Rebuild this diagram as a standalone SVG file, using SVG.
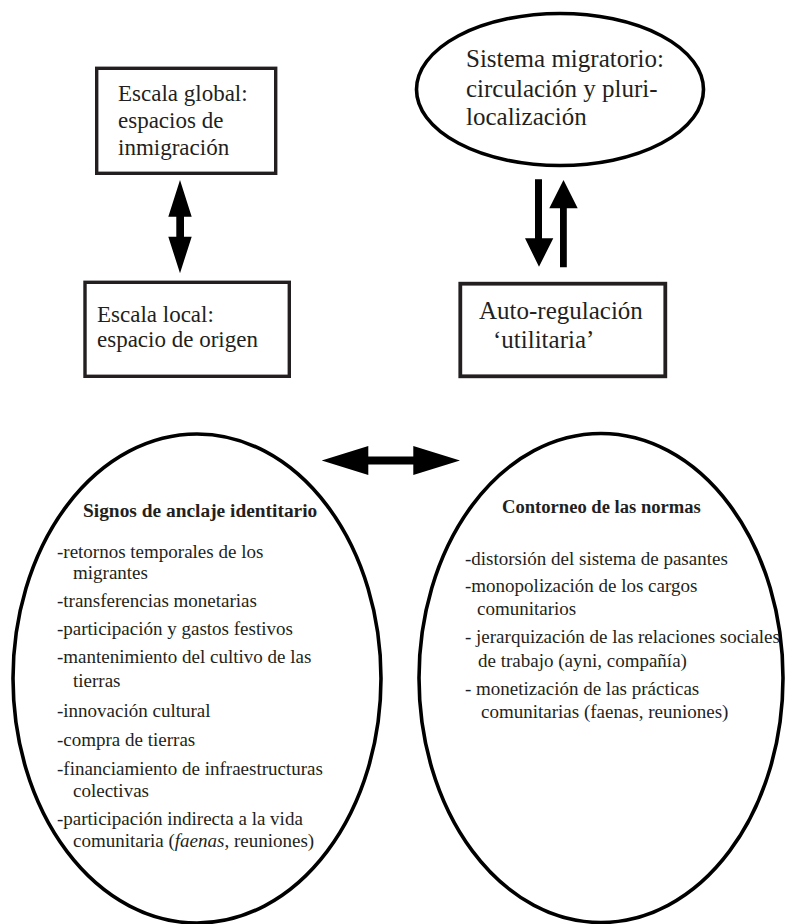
<svg xmlns="http://www.w3.org/2000/svg" width="785" height="924" viewBox="0 0 785 924">
<style>
  .box { fill: #ffffff; stroke: #231f20; stroke-width: 3.4; }
  .ell { fill: #ffffff; stroke: #000000; stroke-width: 3.6; }
  .t { font-family: "Liberation Serif", "DejaVu Serif", serif; fill: #231f20; }
  .big { font-size: 25px; }
  .mid { font-size: 23px; }
  .li { font-size: 19px; }
  .hd { font-weight: bold; }
  .arr { fill: #000000; stroke: none; }
</style>
<rect width="785" height="924" fill="#ffffff"/>

<g id="connectors">
  <!-- vertical double arrow between left boxes -->
  <polygon class="arr" points="180,180 191.7,216.7 184,216.7 184,236.7 191.7,236.7 180,273.3 168.3,236.7 176.3,236.7 176.3,216.7 168.3,216.7"/>
  <!-- down arrow -->
  <polygon class="arr" points="535,179.3 542,179.3 542,238.3 553.3,238.3 539,266.7 525,238.3 535,238.3"/>
  <!-- up arrow -->
  <polygon class="arr" points="563.5,180 577.7,208.3 566.8,208.3 566.8,267.3 560,267.3 560,208.3 549.3,208.3"/>
  <!-- horizontal double arrow -->
  <polygon class="arr" points="321.7,460.5 368.3,446 368.3,456.5 413.3,456.5 413.3,446 460,460.5 413.3,475 413.3,464.5 368.3,464.5 368.3,475"/>
</g>

<g id="escala-global">
  <rect class="box" x="96.7" y="68.3" width="179" height="105"/>
  <text class="t mid" x="118" y="101">Escala global:</text>
  <text class="t mid" x="118" y="128">espacios de</text>
  <text class="t mid" x="118" y="155">inmigración</text>
</g>

<g id="escala-local">
  <rect class="box" x="85" y="282.3" width="204.3" height="94"/>
  <text class="t mid" x="97" y="322">Escala local:</text>
  <text class="t mid" x="97" y="347">espacio de origen</text>
</g>

<g id="sistema-migratorio">
  <ellipse class="ell" cx="560" cy="89.5" rx="143.5" ry="76"/>
  <text class="t big" x="466" y="67">Sistema migratorio:</text>
  <text class="t big" x="466" y="97">circulación y pluri-</text>
  <text class="t big" x="466" y="125">localización</text>
</g>

<g id="auto-regulacion">
  <rect class="box" x="460.3" y="283.7" width="205" height="92.6" style="stroke-width:3.8"/>
  <text class="t big" x="479" y="319">Auto-regulación</text>
  <text class="t big" x="493" y="348">‘utilitaria’</text>
</g>

<g id="signos-anclaje">
  <ellipse class="ell" cx="197" cy="678.5" rx="184" ry="244.5"/>
  <text class="t hd" x="83" y="517" style="font-size:19.4px">Signos de anclaje identitario</text>
  <text class="t li" x="57" y="558">-retornos temporales de los</text>
  <text class="t li" x="73" y="579">migrantes</text>
  <text class="t li" x="57" y="607">-transferencias monetarias</text>
  <text class="t li" x="57" y="635">-participación y gastos festivos</text>
  <text class="t li" x="57" y="663">-mantenimiento del cultivo de las</text>
  <text class="t li" x="73" y="687">tierras</text>
  <text class="t li" x="57" y="717">-innovación cultural</text>
  <text class="t li" x="57" y="746">-compra de tierras</text>
  <text class="t li" x="57" y="775">-financiamiento de infraestructuras</text>
  <text class="t li" x="73" y="797">colectivas</text>
  <text class="t li" x="57" y="825">-participación indirecta a la vida</text>
  <text class="t li" x="73" y="847">comunitaria (<tspan font-style="italic">faenas</tspan>, reuniones)</text>
</g>

<g id="contorneo-normas">
  <ellipse class="ell" cx="601" cy="678" rx="182" ry="244.5"/>
  <text class="t hd" x="502" y="513" style="font-size:18.6px">Contorneo de las normas</text>
  <text class="t li" x="465" y="565">-distorsión del sistema de pasantes</text>
  <text class="t li" x="465" y="592">-monopolización de los cargos</text>
  <text class="t li" x="477" y="615">comunitarios</text>
  <text class="t li" x="465" y="643">- jerarquización de las relaciones sociales</text>
  <text class="t li" x="478" y="667">de trabajo (ayni, compañía)</text>
  <text class="t li" x="465" y="695">- monetización de las prácticas</text>
  <text class="t li" x="481" y="718">comunitarias (faenas, reuniones)</text>
</g>
</svg>
